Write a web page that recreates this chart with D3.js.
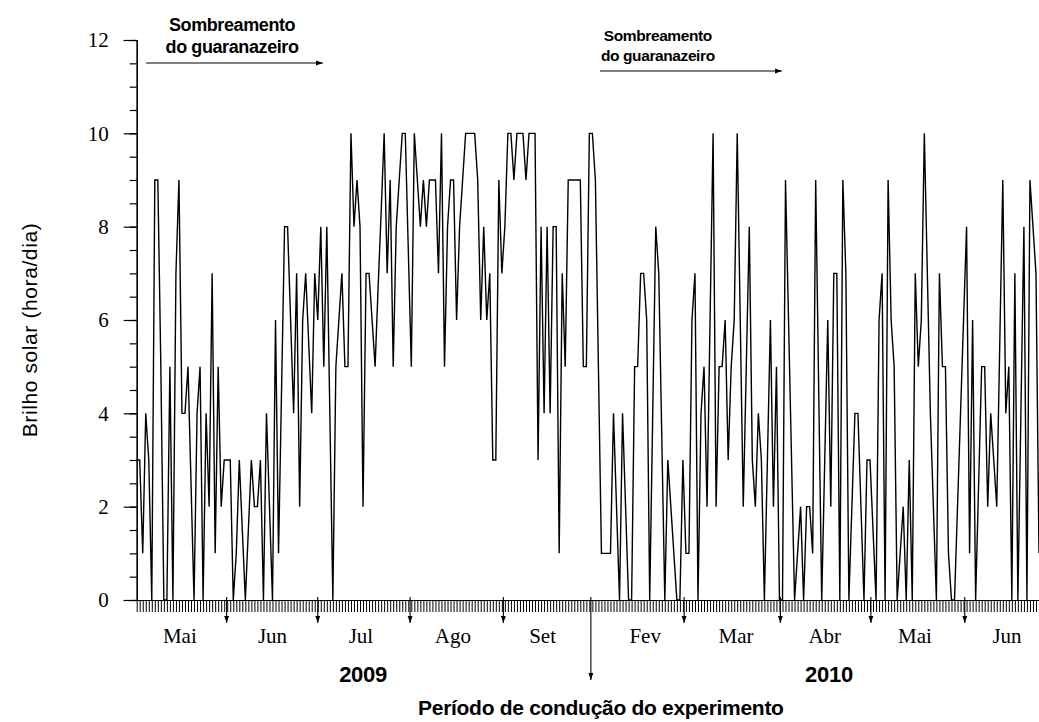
<!DOCTYPE html>
<html><head><meta charset="utf-8">
<script src="https://cdn.jsdelivr.net/npm/d3@7/dist/d3.min.js"></script>
<style>body{margin:0;background:#fff}svg{display:block}</style>
</head><body>
<svg id="c" width="1039" height="722"></svg>
<script>
// daily sunshine values (hours/day), one per day in plotting order
const sunshine = [
 3,3,1,4,3,0,9,9,5,0, 0,5,0,7,9,4,4,5,2.5,0, 4,5,0,4,2,7,1,5,2,3,
 3,3,0,1,3,1.5,0,1.5,3,2, 2,3,0,4,2,0,6,1,4.5,8, 8,6,4,7,2,6,7,5.5,4,7,
 6,8,5,8,4,0,5,6,7,5, 5,10,8,9,8,2,7,7,6,5, 6.7,8.3,10,7,9,5,8,9,10,10,
 7.5,5,10,9,8,9,8,9,9,9, 7,10,5,8,9,9,6,8,9,10, 10,10,10,9,6,8,6,7,3,3,
 9,7,8,10,10,9,10,10,10,9, 10,10,10,3,8,4,8,4,8,8, 1,7,5,9,9,9,9,9,5,5,
 10,10,9,5,1,1,1,1,4,2, 0,4,2,0,0,5,5,7,7,6, 0,4,8,7,3.5,0,3,2,1,0,
 0,3,1,1,6,7,0,4,5,2, 6,10,2,5,5,6,3,5,6,10, 6,2,5,8,3,2,4,3,0,3,
 6,2,5,0,0,9,6,3,0,1, 2,0,2,2,1,9,4.5,0,3,6, 2,7,7,0,9,7,0,2,4,4,
 2,0,3,3,1.5,0,6,7,0,9, 6,5,0,1,2,0,3,0,7,5, 6,10,7,4,2,0,7,5,5,1,
 0,0,2,4,6,8,1,6,0,2.5, 5,5,2,4,3,2,5.5,9,4,5, 0,7,0,4,8,0,9,8,7,1
];
const yTickLabels = [0, 2, 4, 6, 8, 10, 12];
const monthNames = ["Mai","Jun","Jul","Ago","Set","Fev","Mar","Abr","Mai","Jun"];
const monthLabelDays = [14.3, 45, 74.3, 104.8, 134.5, 168.5, 198.6, 228, 257.9, 288.4];
const monthBoundaryDays = [29.8, 60, 90.6, 121.5, 181.4, 213.3, 243.3, 274.4];
const experimentBreakDay = 150.5;
const yearNames = ["2009", "2010"];
const yearDays = [75, 229.4];
const shadeLabel = ["Sombreamento", "do guaranazeiro"];
const shadeCenterDays = [31.6, 172.7];
const shadeArrowDays = [[3.1, 61.7], [153.5, 213.8]];
const yLabel = "Brilho solar (hora/dia)";
const periodLabel = "Período de condução do experimento";

const svg = d3.select("#c");
const L = 136.7, R = 1039, T = 40, B = 600;
const x = d3.scaleLinear().domain([0, sunshine.length - 1]).range([L, R]);
const y = d3.scaleLinear().domain([0, 12]).range([B, T]);

svg.append("defs").append("marker")
  .attr("id", "ah").attr("viewBox", "0 0 10 10").attr("refX", 10).attr("refY", 5)
  .attr("markerWidth", 7).attr("markerHeight", 7).attr("markerUnits", "userSpaceOnUse")
  .attr("orient", "auto")
  .append("path").attr("d", "M0,1.5 L10,5 L0,8.5 Z").attr("fill", "#000");

// y axis: minor ticks every 0.5
const gyMinor = svg.append("g").attr("transform", `translate(${L},0)`)
  .call(d3.axisLeft(y).tickValues(d3.range(0, 12.01, 0.5)).tickSize(7).tickFormat(""));
const gy = svg.append("g").attr("transform", `translate(${L},0)`)
  .call(d3.axisLeft(y).tickValues(yTickLabels).tickSize(13).tickPadding(15).tickFormat(d3.format("d")));
[gyMinor, gy].forEach(g => {
  g.selectAll("line").attr("stroke", "#000").attr("stroke-width", 1.2);
  g.select(".domain").attr("stroke", "#000").attr("stroke-width", 1.2);
});
gy.selectAll("text").attr("font-family", "'Liberation Serif', 'Times New Roman', serif")
  .attr("font-size", 21).attr("fill", "#000");

// x axis: daily ticks
const gx = svg.append("g").attr("transform", `translate(0,${B})`)
  .call(d3.axisBottom(x).tickValues(d3.range(0, sunshine.length)).tickSize(12).tickSizeOuter(0).tickFormat(""));
gx.selectAll("line").attr("stroke", "#000").attr("stroke-width", 1);
gx.select(".domain").attr("stroke", "#000").attr("stroke-width", 1.2);

// data line
svg.append("path").datum(sunshine)
  .attr("fill", "none").attr("stroke", "#000").attr("stroke-width", 1.4)
  .attr("stroke-linejoin", "miter")
  .attr("d", d3.line().x((d, i) => x(i)).y(d => y(d)));

// month boundary arrows
svg.append("g").selectAll("line").data(monthBoundaryDays).join("line")
  .attr("x1", d => x(d)).attr("x2", d => x(d))
  .attr("y1", B - 3).attr("y2", B + 23)
  .attr("stroke", "#000").attr("stroke-width", 1.1).attr("marker-end", "url(#ah)");
svg.append("line")
  .attr("x1", x(experimentBreakDay)).attr("x2", x(experimentBreakDay))
  .attr("y1", B - 3).attr("y2", B + 80)
  .attr("stroke", "#000").attr("stroke-width", 1.1).attr("marker-end", "url(#ah)");

// month labels
svg.append("g").selectAll("text").data(monthNames).join("text")
  .attr("x", (d, i) => x(monthLabelDays[i])).attr("y", B + 43)
  .attr("text-anchor", "middle")
  .attr("font-family", "'Liberation Serif', 'Times New Roman', serif").attr("font-size", 21)
  .text(d => d);

// years
svg.append("g").selectAll("text").data(yearNames).join("text")
  .attr("x", (d, i) => x(yearDays[i])).attr("y", B + 82)
  .attr("text-anchor", "middle")
  .attr("font-family", "'Liberation Sans', Arial, sans-serif").attr("font-weight", "bold")
  .attr("font-size", 22).attr("letter-spacing", -0.3)
  .text(d => d);

svg.append("text").attr("x", x(experimentBreakDay) + 10).attr("y", B + 115)
  .attr("text-anchor", "middle")
  .attr("font-family", "'Liberation Sans', Arial, sans-serif").attr("font-weight", "bold")
  .attr("font-size", 21).attr("letter-spacing", -0.3)
  .text(periodLabel);

// y label
svg.append("text").attr("transform", "translate(37,330) rotate(-90)")
  .attr("text-anchor", "middle")
  .attr("font-family", "'Liberation Sans', Arial, sans-serif").attr("font-size", 21)
  .attr("letter-spacing", 0.6)
  .text(yLabel);

// shading annotations
const shadeSizes = [18, 15.5];
const shadeY = [[31, 53, 63], [41, 61, 71]];
shadeCenterDays.forEach((c, j) => {
  shadeLabel.forEach((t, i) => {
    svg.append("text").attr("x", x(c)).attr("y", shadeY[j][i])
      .attr("text-anchor", "middle")
      .attr("font-family", "'Liberation Sans', Arial, sans-serif").attr("font-weight", "bold")
      .attr("font-size", shadeSizes[j]).attr("letter-spacing", -0.4)
      .text(t);
  });
  svg.append("line")
    .attr("x1", x(shadeArrowDays[j][0])).attr("x2", x(shadeArrowDays[j][1]))
    .attr("y1", shadeY[j][2]).attr("y2", shadeY[j][2])
    .attr("stroke", "#000").attr("stroke-width", 1.1).attr("marker-end", "url(#ah)");
});
</script>
</body></html>
